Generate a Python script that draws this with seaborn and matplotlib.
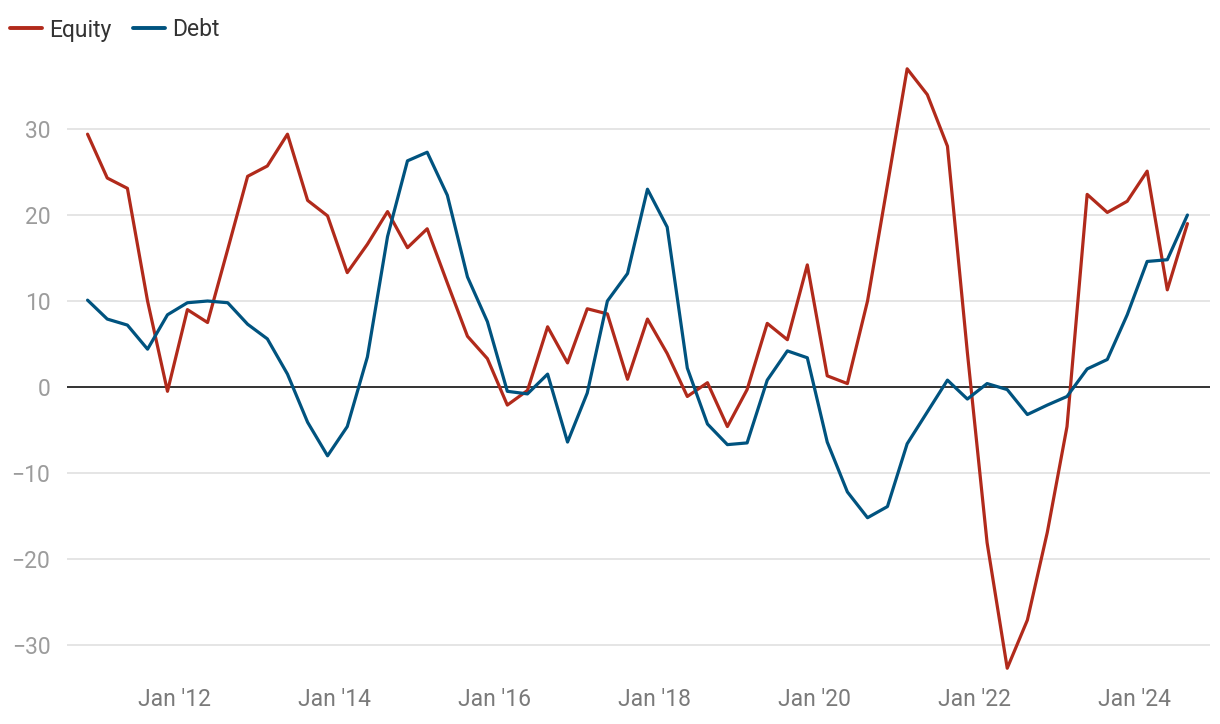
import pandas as pd
import numpy as np
import matplotlib.pyplot as plt
import seaborn as sns

# Quarterly values, Dec 2010 - Sep 2024
dates = pd.date_range("2010-12-01", periods=56, freq="3MS")
equity = [29.4, 24.3, 23.1, 10.0, -0.5, 9.0, 7.5, 16.0, 24.5, 25.7,
          29.4, 21.7, 19.9, 13.3, 16.6, 20.4, 16.2, 18.4, 12.1, 5.9,
          3.3, -2.1, -0.4, 7.0, 2.8, 9.1, 8.5, 0.9, 7.9, 3.9,
          -1.1, 0.5, -4.6, -0.3, 7.4, 5.5, 14.2, 1.3, 0.4, 10.0,
          23.5, 37.0, 34.0, 28.0, 4.0, -18.1, -32.7, -27.1, -16.9, -4.6,
          22.4, 20.3, 21.6, 25.1, 11.3, 19.0]
debt = [10.1, 7.9, 7.2, 4.4, 8.4, 9.8, 10.0, 9.8, 7.3, 5.6,
        1.5, -4.1, -8.0, -4.6, 3.5, 17.5, 26.3, 27.3, 22.3, 12.8,
        7.6, -0.5, -0.8, 1.5, -6.4, -0.7, 10.0, 13.2, 23.0, 18.6,
        2.2, -4.3, -6.7, -6.5, 0.8, 4.2, 3.4, -6.4, -12.2, -15.2,
        -13.9, -6.6, -2.9, 0.8, -1.4, 0.4, -0.3, -3.2, -2.1, -1.1,
        2.1, 3.2, 8.4, 14.6, 14.8, 20.0]
series = ["Equity", "Debt"]
colors = ["#b12a1b", "#00537f"]
yticks = [-30, -20, -10, 0, 10, 20, 30]
xtick_years = [2012, 2014, 2016, 2018, 2020, 2022, 2024]

df = pd.DataFrame({"date": dates, "Equity": equity, "Debt": debt})
long = df.melt(id_vars="date", var_name="series", value_name="value")

sns.set_style("white")
plt.rcParams["font.family"] = ["Roboto", "DejaVu Sans"]

fig = plt.figure(figsize=(12.2, 7.24), dpi=100)
ax = fig.add_axes([0.0549, 0.0616, 0.9369, 0.8671])

for y in yticks:
    if y != 0:
        ax.axhline(y, color="#e5e5e5", lw=1.4, zorder=0)
ax.axhline(0, color="#333333", lw=1.4, zorder=1)

sns.lineplot(data=long, x="date", y="value", hue="series", hue_order=series,
             palette=colors, linewidth=2.3, ax=ax, legend=False, zorder=3)

ax.set_ylim(-34, 39)
ax.set_xlim(pd.Timestamp("2010-08-29"), pd.Timestamp("2024-12-13"))
ax.set_yticks(yticks)
ax.set_yticklabels([str(v).replace("-", "\u2212") for v in yticks])
ax.set_xticks([pd.Timestamp(f"{yr}-01-01") for yr in xtick_years])
ax.set_xticklabels([f"Jan '{str(yr)[2:]}" for yr in xtick_years])
ax.tick_params(axis="both", length=0, labelsize=16.5)
ax.tick_params(axis="y", pad=12, labelcolor="#9c9c9c")
ax.tick_params(axis="x", pad=6, labelcolor="#7a7a7a")
ax.set_xlabel("")
ax.set_ylabel("")
for s in ax.spines.values():
    s.set_visible(False)

handles = [plt.Line2D([], [], color=c, lw=2.8) for c in colors]
leg = fig.legend(handles, series, loc="center left",
                 bbox_to_anchor=(10 / 1220, 1 - 30 / 724),
                 ncol=2, frameon=False, fontsize=16.5, handlelength=1.4,
                 handletextpad=0.3, columnspacing=0.95, borderpad=0,
                 borderaxespad=0)
for t in leg.get_texts():
    t.set_color("#333333")

fig.savefig("out.png", dpi=100)
